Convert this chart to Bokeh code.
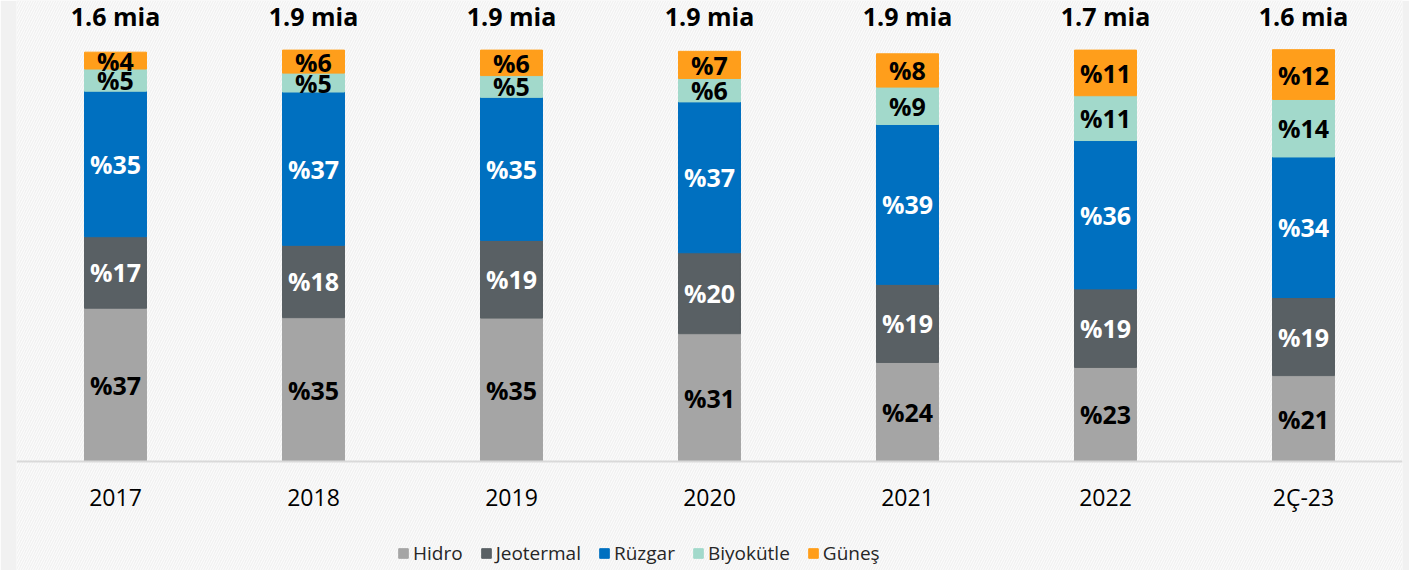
import numpy as np
from bokeh.plotting import figure
from bokeh.models import Range1d, FactorRange, ColumnDataSource, BoxAnnotation
from bokeh.core.properties import value
from bokeh.embed import file_html
from bokeh.resources import INLINE

# ---- data ----
years = ["2017", "2018", "2019", "2020", "2021", "2022", "2Ç-23"]
hidro = [37.3, 35.0, 34.9, 31.1, 24.1, 22.9, 20.9]
jeotermal = [17.4, 17.6, 18.9, 19.7, 19.0, 19.1, 19.0]
ruzgar = [35.4, 37.3, 34.8, 36.7, 38.9, 36.1, 34.2]
biyokutle = [5.4, 4.6, 5.3, 5.7, 9.1, 10.9, 14.0]
gunes = [4.1, 5.6, 6.2, 6.6, 8.1, 11.1, 12.1]
totals = ["1.6", "1.9", "1.9", "1.9", "1.9", "1.7", "1.6"]
series_names = ["Hidro", "Jeotermal", "Rüzgar", "Biyokütle", "Güneş"]

# ---- styles ----
colors = ["#a5a5a5", "#596064", "#0070c0", "#a2d9cb", "#ff9e1b"]
label_colors = ["#000000", "#ffffff", "#ffffff", "#000000", "#000000"]
BG = "#f1f1f1"
FONT = value("Open Sans")

series_values = [hidro, jeotermal, ruzgar, biyokutle, gunes]
data = {"year": years}
for name, vals in zip(series_names, series_values):
    data[name] = vals
src = ColumnDataSource(data)

p = figure(
    x_range=FactorRange(*years, range_padding=0),
    y_range=Range1d(-26.52, 112.17),
    width=1409, height=570,
    output_backend="svg", toolbar_location=None,
    y_axis_type=None,
    min_border_left=16, min_border_right=7, min_border_top=0, min_border_bottom=0,
    background_fill_color=BG, border_fill_color=BG, outline_line_color=None,
)
p.grid.visible = False

# faint diagonal texture of the background
p.add_layout(BoxAnnotation(level="underlay", fill_alpha=0, line_color=None,
                           hatch_pattern="/", hatch_color="#ffffff",
                           hatch_alpha=0.9, hatch_scale=5, hatch_weight=1))

p.vbar_stack(series_names, x="year", width=0.313, color=colors, source=src,
             legend_label=series_names)

# segment labels
bottom = np.zeros(len(years))
for vals, tc in zip(series_values, label_colors):
    v = np.array(vals)
    mid = bottom + v / 2
    p.text(x=years, y=list(mid), text=["%" + f"{x:.0f}" for x in v],
           text_font=FONT, text_font_size="25px", text_font_style="bold",
           text_color=tc, text_align="center", text_baseline="middle")
    bottom = bottom + v

# total labels
p.text(x=years, y=[108.4] * len(years), text=[t + " mia" for t in totals],
       text_font=FONT, text_font_size="25px", text_font_style="bold",
       text_color="#000000", text_align="center", text_baseline="middle")

# x axis drawn at y = 0 inside the frame
ax = p.xaxis[0]
ax.fixed_location = 0
ax.axis_line_color = "#d9d9d9"
ax.axis_line_width = 2
ax.major_tick_line_color = None
ax.minor_tick_line_color = None
ax.major_tick_out = 0
ax.major_tick_in = 0
ax.major_label_standoff = 19
ax.major_label_text_font = "Open Sans"
ax.major_label_text_font_size = "23px"
ax.major_label_text_color = "#000000"

# legend
lg = p.legend[0]
lg.orientation = "horizontal"
lg.location = (381, 4)
lg.padding = 0
lg.margin = 0
lg.spacing = 17
lg.glyph_width = 12
lg.glyph_height = 12
lg.label_standoff = 4
lg.label_text_font = "Open Sans"
lg.label_text_font_size = "19px"
lg.label_text_color = "#262626"
lg.background_fill_alpha = 0
lg.border_line_color = None

open("out.html", "w").write(file_html(p, INLINE))
